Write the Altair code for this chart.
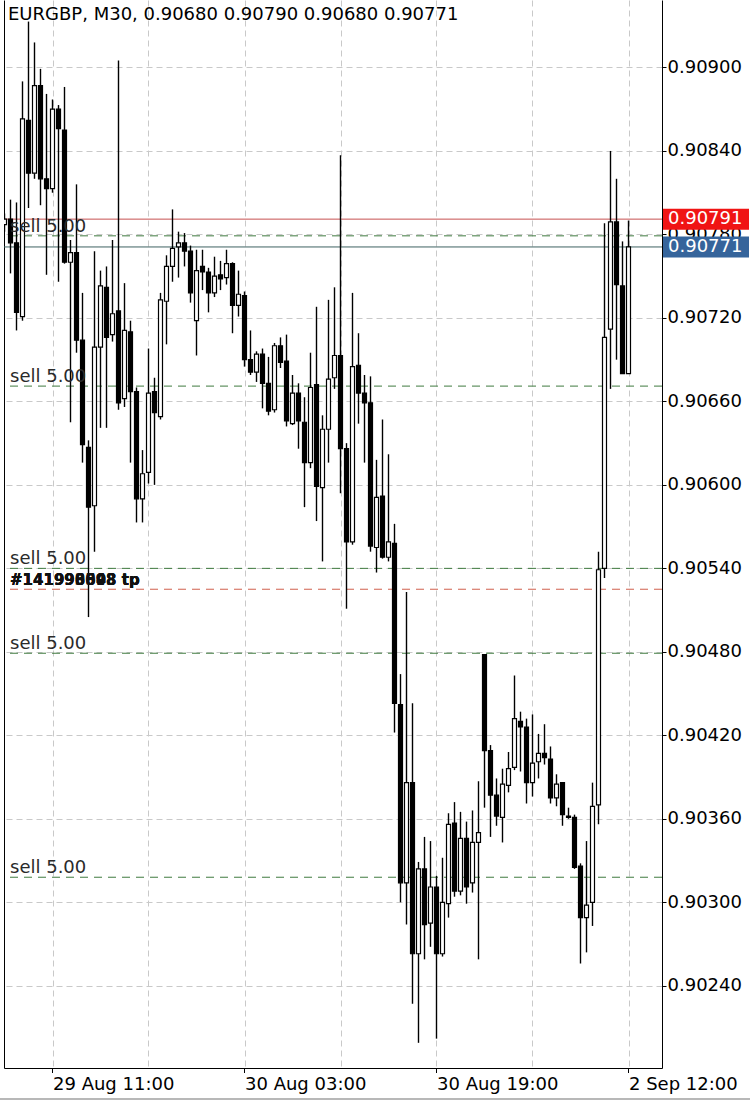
import altair as alt
import pandas as pd

# ---- instrument / quote -------------------------------------------------
symbol = "EURGBP"
timeframe = "M30"
ask_price = 0.90791

# ---- M30 bars, oldest first (105 bars) ----------------------------------
opens = [
    0.90787, 0.90791, 0.90774, 0.90721, 0.90862, 0.90824, 0.90887, 0.90820, 0.90813, 0.90870,
    0.90855, 0.90760, 0.90767, 0.90704, 0.90627, 0.90585, 0.90699, 0.90742, 0.90708, 0.90725,
    0.90662, 0.90710, 0.90667, 0.90590, 0.90609, 0.90667, 0.90649, 0.90732, 0.90757, 0.90771,
    0.90774, 0.90768, 0.90718, 0.90757, 0.90753, 0.90738, 0.90751, 0.90749, 0.90759, 0.90729,
    0.90736, 0.90690, 0.90681, 0.90694, 0.90673, 0.90654, 0.90700, 0.90689, 0.90644, 0.90666,
    0.90645, 0.90616, 0.90672, 0.90598, 0.90640, 0.90677, 0.90693, 0.90626, 0.90559, 0.90686,
    0.90666, 0.90659, 0.90555, 0.90592, 0.90548, 0.90558, 0.90442, 0.90314, 0.90386, 0.90263,
    0.90324, 0.90285, 0.90311, 0.90263, 0.90299, 0.90357, 0.90308, 0.90346, 0.90314, 0.90343,
    0.90478, 0.90409, 0.90377, 0.90361, 0.90384, 0.90397, 0.90430, 0.90426, 0.90386, 0.90401,
    0.90407, 0.90403, 0.90375, 0.90386, 0.90362, 0.90361, 0.90326, 0.90289, 0.90300, 0.90370,
    0.90540, 0.90712, 0.90789, 0.90743, 0.90680,
]
highs = [
    0.90795, 0.90805, 0.90803, 0.90890, 0.90933, 0.90918, 0.90899, 0.90881, 0.90877, 0.90873,
    0.90886, 0.90776, 0.90816, 0.90738, 0.90632, 0.90768, 0.90754, 0.90757, 0.90776, 0.90905,
    0.90745, 0.90718, 0.90670, 0.90625, 0.90698, 0.90677, 0.90738, 0.90765, 0.90798, 0.90782,
    0.90781, 0.90772, 0.90769, 0.90769, 0.90756, 0.90764, 0.90761, 0.90769, 0.90760, 0.90754,
    0.90739, 0.90711, 0.90696, 0.90698, 0.90692, 0.90702, 0.90706, 0.90708, 0.90679, 0.90673,
    0.90663, 0.90695, 0.90728, 0.90650, 0.90733, 0.90742, 0.90837, 0.90630, 0.90738, 0.90709,
    0.90679, 0.90678, 0.90618, 0.90647, 0.90622, 0.90572, 0.90464, 0.90523, 0.90443, 0.90329,
    0.90347, 0.90344, 0.90319, 0.90332, 0.90364, 0.90372, 0.90365, 0.90358, 0.90366, 0.90387,
    0.90478, 0.90413, 0.90389, 0.90396, 0.90408, 0.90463, 0.90437, 0.90432, 0.90435, 0.90421,
    0.90428, 0.90412, 0.90392, 0.90386, 0.90368, 0.90363, 0.90328, 0.90344, 0.90386, 0.90552,
    0.90788, 0.90840, 0.90820, 0.90775, 0.90790,
]
lows = [
    0.90782, 0.90752, 0.90711, 0.90718, 0.90799, 0.90820, 0.90801, 0.90751, 0.90810, 0.90746,
    0.90759, 0.90645, 0.90695, 0.90616, 0.90505, 0.90552, 0.90641, 0.90641, 0.90703, 0.90654,
    0.90656, 0.90616, 0.90573, 0.90573, 0.90601, 0.90600, 0.90647, 0.90701, 0.90746, 0.90749,
    0.90757, 0.90731, 0.90693, 0.90740, 0.90724, 0.90735, 0.90740, 0.90744, 0.90709, 0.90721,
    0.90685, 0.90679, 0.90674, 0.90655, 0.90650, 0.90652, 0.90684, 0.90642, 0.90643, 0.90626,
    0.90584, 0.90612, 0.90574, 0.90545, 0.90616, 0.90669, 0.90594, 0.90511, 0.90557, 0.90644,
    0.90616, 0.90552, 0.90537, 0.90547, 0.90545, 0.90422, 0.90300, 0.90284, 0.90227, 0.90199,
    0.90259, 0.90268, 0.90202, 0.90261, 0.90289, 0.90304, 0.90305, 0.90299, 0.90307, 0.90259,
    0.90368, 0.90347, 0.90355, 0.90343, 0.90379, 0.90395, 0.90394, 0.90371, 0.90376, 0.90389,
    0.90399, 0.90371, 0.90369, 0.90355, 0.90360, 0.90324, 0.90256, 0.90264, 0.90283, 0.90356,
    0.90533, 0.90669, 0.90690, 0.90680, 0.90680,
]
closes = [
    0.90791, 0.90774, 0.90724, 0.90863, 0.90824, 0.90887, 0.90820, 0.90813, 0.90870, 0.90856,
    0.90760, 0.90767, 0.90704, 0.90629, 0.90584, 0.90699, 0.90743, 0.90706, 0.90723, 0.90659,
    0.90711, 0.90667, 0.90590, 0.90608, 0.90666, 0.90652, 0.90733, 0.90757, 0.90770, 0.90774,
    0.90768, 0.90738, 0.90754, 0.90753, 0.90738, 0.90750, 0.90748, 0.90759, 0.90729, 0.90737,
    0.90690, 0.90681, 0.90694, 0.90673, 0.90653, 0.90700, 0.90688, 0.90646, 0.90666, 0.90646,
    0.90616, 0.90670, 0.90599, 0.90640, 0.90676, 0.90693, 0.90626, 0.90559, 0.90685, 0.90666,
    0.90659, 0.90556, 0.90591, 0.90548, 0.90559, 0.90443, 0.90314, 0.90386, 0.90263, 0.90324,
    0.90284, 0.90311, 0.90263, 0.90300, 0.90356, 0.90308, 0.90346, 0.90311, 0.90343, 0.90350,
    0.90409, 0.90377, 0.90362, 0.90385, 0.90396, 0.90432, 0.90426, 0.90386, 0.90400, 0.90407,
    0.90404, 0.90375, 0.90385, 0.90363, 0.90361, 0.90325, 0.90289, 0.90298, 0.90369, 0.90539,
    0.90706, 0.90789, 0.90744, 0.90680, 0.90771,
]

# ---- open orders --------------------------------------------------------
order_sides = ["sell", "sell", "sell", "sell", "sell"]
order_lots = [5.00, 5.00, 5.00, 5.00, 5.00]
order_prices = [0.90779, 0.90671, 0.90540, 0.90479, 0.90318]
tp_price = 0.90525
tp_tickets = ["141990598", "141998608", "141996093", "141993848"]

# ---- axes ----------------------------------------------------------------
grid_bars = [8, 24, 40, 56, 72, 88, 104]
label_bars = [8, 40, 72, 104]
label_texts = ["29 Aug 11:00", "30 Aug 03:00", "30 Aug 19:00", "2 Sep 12:00"]
price_ticks = [0.90240, 0.90300, 0.90360, 0.90420, 0.90480, 0.90540, 0.90600,
               0.90660, 0.90720, 0.90780, 0.90840, 0.90900]

W, H = 658, 1068
FONT = "DejaVu Sans"
GRID = "#c9c9c9"

bars = pd.DataFrame({
    "bar": list(range(len(opens))),
    "open": opens, "high": highs, "low": lows, "close": closes,
})

# 6 px per bar; no extra scale padding so bars sit on whole pixels
x_lo = -1.0 / 12.0
x_scale = alt.Scale(domain=[x_lo, x_lo + W / 6.0], nice=False, zero=False, padding=0)
y_scale = alt.Scale(domain=[0.901809, 0.909485], nice=False, zero=False, padding=0)

label_expr = " : ".join(
    f"datum.value == {b} ? '{t}'" for b, t in zip(label_bars, label_texts)
) + " : ''"

# time axis: dashed grid every 16 bars, a date label every 32 bars
x_axis = alt.Axis(
    values=grid_bars, grid=True, gridColor=GRID, gridDash=[6, 4], gridWidth=1,
    labelExpr=label_expr, labelAlign="left", labelBaseline="top",
    labelFont=FONT, labelFontSize=18, labelColor="black",
    labelPadding=7, labelFlush=False, labelOverlap=False,
    ticks=False, domain=True, domainColor="black", domainWidth=1, title=None,
)
right_axis = alt.Axis(
    orient="right", values=price_ticks, format=".5f",
    grid=True, gridColor=GRID, gridDash=[6, 4], gridWidth=1,
    labelFont=FONT, labelFontSize=18, labelColor="black", labelPadding=1,
    labelOverlap=False, labelFlush=False,
    tickSize=4, tickColor="black", domainColor="black", domainWidth=1, title=None,
)
left_axis = alt.Axis(
    orient="left", labels=False, ticks=False, grid=False,
    domainColor="black", domainWidth=1, title=None,
)

# candle wicks (carry the time axis and the price axis)
wicks = alt.Chart(bars).mark_rule(color="black", strokeWidth=1.4, clip=True).encode(
    x=alt.X("bar:Q", scale=x_scale, axis=x_axis),
    y=alt.Y("low:Q", scale=y_scale, axis=right_axis),
    y2="high:Q",
)

# candle bodies: hollow for up bars, filled for down bars
bodies = alt.Chart(bars).mark_bar(size=4, stroke="black", strokeWidth=1.2, clip=True).encode(
    x=alt.X("bar:Q", scale=x_scale, axis=x_axis),
    y=alt.Y("open:Q", scale=y_scale, axis=left_axis),
    y2="close:Q",
    fill=alt.condition("datum.close >= datum.open", alt.value("white"), alt.value("black")),
)

# short tick marks under the labelled times
time_ticks = alt.Chart(pd.DataFrame({"bar": label_bars})).mark_rule(
    color="black", strokeWidth=1
).encode(
    x=alt.X("bar:Q", scale=x_scale, axis=x_axis),
    y=alt.value(H),
    y2=alt.value(H + 5),
)

# pending sell orders
orders = pd.DataFrame({
    "price": order_prices,
    "label": [f"{s} {l:.2f}" for s, l in zip(order_sides, order_lots)],
})
order_lines = alt.Chart(orders).mark_rule(color="#3f7a3f", strokeDash=[8, 6], strokeWidth=1).encode(
    y=alt.Y("price:Q", scale=y_scale, axis=None),
)
order_labels = alt.Chart(orders).mark_text(
    align="left", baseline="alphabetic", dy=-4, font=FONT, fontSize=18, color="#2a2a2a",
).encode(
    x=alt.value(6),
    y=alt.Y("price:Q", scale=y_scale, axis=None),
    text="label:N",
)

# shared take-profit level (several tickets drawn on the same spot)
tp = pd.DataFrame({"price": [tp_price] * len(tp_tickets),
                   "label": [f"#{t} tp" for t in tp_tickets]})
tp_line = alt.Chart(tp.head(1)).mark_rule(color="#d0604c", strokeDash=[8, 6], strokeWidth=1).encode(
    y=alt.Y("price:Q", scale=y_scale, axis=None),
)
tp_labels = alt.Chart(tp).mark_text(
    align="left", baseline="alphabetic", dy=-4, font=FONT, fontSize=15,
    fontWeight="bold", color="#111111",
).encode(
    x=alt.value(6),
    y=alt.Y("price:Q", scale=y_scale, axis=None),
    text="label:N",
)

# ask / bid lines with price tags on the axis
quotes = pd.DataFrame({
    "price": [ask_price, closes[-1]],
    "line": ["#c65050", "#3e6262"],
    "tag": ["#f01414", "#35649b"],
})
quote_lines = alt.Chart(quotes).mark_rule(strokeWidth=1).encode(
    y=alt.Y("price:Q", scale=y_scale, axis=None),
    color=alt.Color("line:N", scale=None),
)
quote_tags = alt.Chart(quotes).mark_tick(orient="horizontal", thickness=21, size=86, opacity=1).encode(
    x=alt.value(702),
    y=alt.Y("price:Q", scale=y_scale, axis=None),
    color=alt.Color("tag:N", scale=None),
)
quote_text = alt.Chart(quotes).mark_text(
    align="left", baseline="middle", font=FONT, fontSize=18, color="white",
).encode(
    x=alt.value(664),
    y=alt.Y("price:Q", scale=y_scale, axis=None),
    text=alt.Text("price:Q", format=".5f"),
)

# header line: symbol, period and OHLC of the current bar
header = pd.DataFrame({"text": [
    f"{symbol}, {timeframe}, {opens[-1]:.5f} {highs[-1]:.5f} {lows[-1]:.5f} {closes[-1]:.5f}"
]})
header_text = alt.Chart(header).mark_text(
    align="left", baseline="alphabetic", font=FONT, fontSize=18, color="black",
).encode(x=alt.value(4), y=alt.value(19.5), text="text:N")

# separator under the time axis
footer = alt.Chart(pd.DataFrame({"k": [0]})).mark_rule(color="#b8b8b8", strokeWidth=2).encode(
    x=alt.value(-4), x2=alt.value(746), y=alt.value(1099),
)

chart = alt.layer(
    order_lines, tp_line, quote_lines, wicks, bodies, time_ticks,
    order_labels, tp_labels, quote_tags, quote_text, header_text, footer,
).resolve_axis(
    y="independent",
).properties(
    width=W, height=H,
    autosize=alt.AutoSizeParams(type="none"),
    padding={"left": 4, "top": 0, "right": 88, "bottom": 34},
    background="white",
).configure_view(stroke=None)

chart.save("out.html", embed_options={"renderer": "svg", "actions": False})
